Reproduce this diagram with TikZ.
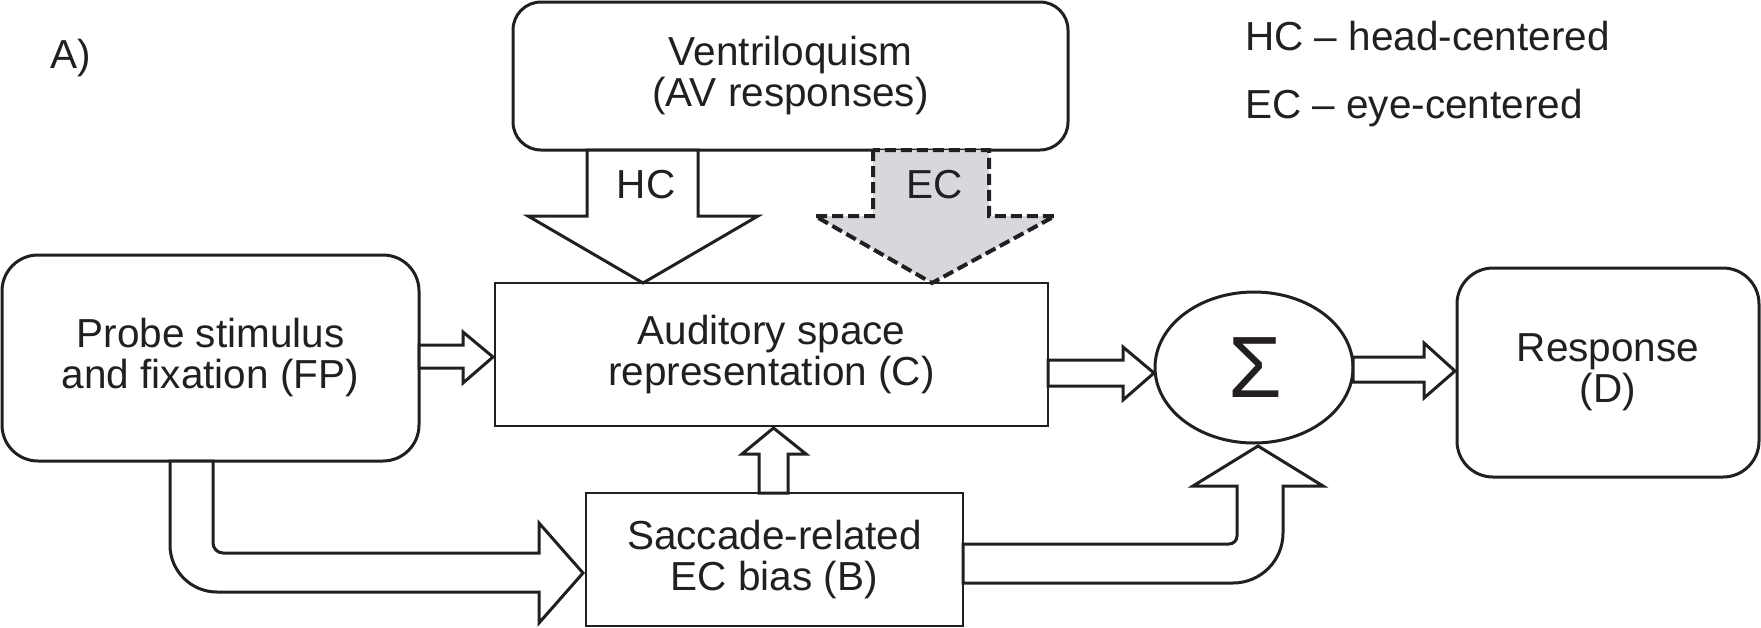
\documentclass[tikz,border=0pt]{standalone}
\usepackage{fontspec}
\setmainfont{Liberation Sans}
\usetikzlibrary{shapes.geometric,calc}
\definecolor{ink}{RGB}{35,31,32}
\definecolor{ecfill}{RGB}{214,216,221}
\begin{document}
\begin{tikzpicture}[x=1pt,y=-1pt,
  txt/.style={font=\fontsize{40.5pt}{41pt}\selectfont, text=ink, align=center, inner sep=0pt, outer sep=0pt},
  rbox/.style={txt, draw=ink, line width=3pt},
  sbox/.style={txt, draw=ink, line width=1.5pt},
  blk/.style={draw=ink, line width=3pt, fill=white, line join=miter},
  blkd/.style={blk, fill=ecfill, dash pattern=on 11pt off 5pt, line width=4pt}]
\useasboundingbox (0,0) rectangle (1761,627);
\fill[white] (0,0) rectangle (1761,627);

% labels
\node[txt, anchor=base west] (lblA) at (50,68) {A)};
\node[txt, anchor=base west] (legHC) at (1245,50) {HC – head-centered};
\node[txt, anchor=base west] (legEC) at (1245,118) {EC – eye-centered};

% boxes
\node[rbox, rounded corners=28pt, minimum width=555pt, minimum height=148pt] (vent) at (790.5,76) {Ventriloquism\\(AV responses)};
\node[rbox, rounded corners=36pt, minimum width=417pt, minimum height=206pt] (probe) at (210.5,358) {Probe stimulus\\and fixation (FP)};
\node[sbox, minimum width=553pt, minimum height=143pt] (aud) at (771.5,354.5) {Auditory space\\representation (C)};
\node[sbox, minimum width=377pt, minimum height=133pt] (sac) at (774.5,559.5) {Saccade-related\\EC bias (B)};
\node[rbox, ellipse, minimum width=198pt, minimum height=151pt, font=\fontsize{87pt}{87pt}\selectfont] (sum) at (1254,367.5) {\raisebox{-3pt}{\kern2pt Σ}};
\node[rbox, rounded corners=36pt, minimum width=302pt, minimum height=209pt] (resp) at (1608,372.5) {Response\\(D)};

% HC arrow
\draw[blk] (vent.south -| 587,0) -- (587,216) -- (528,216) -- (aud.north -| 643,0) -- (758,216) -- (698,216) -- (vent.south -| 698,0) -- cycle;
\node[txt, anchor=base] (hclbl) at (646,198) {HC};
% EC arrow
\draw[blkd] (vent.south -| 873,0) -- (873,216) -- (815,216) -- (aud.north -| 932,0) -- (1055,216) -- (989,216) -- (vent.south -| 989,0) -- cycle;
\node[txt, anchor=base] (eclbl) at (935,198) {EC};

% probe -> aud
\draw[blk] (probe.east |- 0,345) -- (463,345) -- (463,332) -- ($(aud.west |- 0,357)+(-2,0)$) -- (463,383) -- (463,368) -- (probe.east |- 0,368) -- cycle;
% sac -> aud
\draw[blk] (sac.north -| 759,0) -- (759,454) -- (742,454) -- ($(aud.south -| 773.5,0)+(0,2)$) -- (806,454) -- (788,454) -- (sac.north -| 788,0) -- cycle;
% aud -> sum
\draw[blk] (aud.east |- 0,360) -- (1123,360) -- (1123,347) -- ($(sum.west |- 0,373)+(-1,0)$) -- (1123,400) -- (1123,386) -- (aud.east |- 0,386) -- cycle;
% sum -> resp
\draw[blk] (sum.east |- 0,357) -- (1424,357) -- (1424,343) -- ($(resp.west |- 0,371)+(-2,0)$) -- (1424,398) -- (1424,382) -- (sum.east |- 0,382) -- cycle;
% probe -> sac (bent)
\draw[blk] (probe.south -| 170,0) -- (170,545) .. controls (170,571) and (191,592) .. (217,592) -- (539,592) -- (539,623) -- ($(sac.west |- 0,573)+(-3,0)$) -- (539,523) -- (539,553) -- (223,553) .. controls (217.5,553) and (213,548.5) .. (213,543) -- (probe.south -| 213,0) -- cycle;
% sac -> sum (bent)
\draw[blk] (sac.east |- 0,544) -- (1229,544) .. controls (1233.4,544) and (1237,540.4) .. (1237,536) -- (1237,486) -- (1193,486) -- ($(sum.south -| 1258,0)+(0,3)$) -- (1323,486) -- (1283,486) -- (1283,533) .. controls (1283,560.6) and (1260.6,583) .. (1233,583) -- (sac.east |- 0,583) -- cycle;
\end{tikzpicture}
\end{document}
